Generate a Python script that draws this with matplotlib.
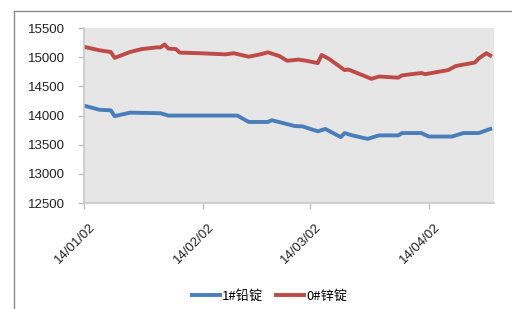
import datetime as dt
import matplotlib
matplotlib.use("Agg")
from matplotlib import pyplot as plt
from matplotlib import dates as mdates
from matplotlib import transforms as mtrans
from matplotlib.lines import Line2D

plt.rcParams['font.family'] = ['Liberation Sans', 'Noto Sans CJK SC', 'DejaVu Sans']

# 1# lead ingot (blue)
lead_dates = ["2014-01-02", "2014-01-06", "2014-01-09", "2014-01-10", "2014-01-14",
              "2014-01-22", "2014-01-24", "2014-02-11", "2014-02-14", "2014-02-19",
              "2014-02-20", "2014-02-26", "2014-02-28", "2014-03-04", "2014-03-06",
              "2014-03-10", "2014-03-11", "2014-03-13", "2014-03-17", "2014-03-20",
              "2014-03-25", "2014-03-26", "2014-03-31", "2014-04-02", "2014-04-08",
              "2014-04-11", "2014-04-15", "2014-04-18"]
lead_vals = [14170, 14100, 14090, 13990, 14050,
             14040, 14000, 14000, 13890, 13890,
             13920, 13820, 13815, 13730, 13770,
             13630, 13700, 13660, 13600, 13660,
             13660, 13700, 13700, 13640, 13640,
             13700, 13700, 13770]

# 0# zinc ingot (red)
zinc_dates = ["2014-01-02", "2014-01-06", "2014-01-09", "2014-01-10", "2014-01-14",
              "2014-01-17", "2014-01-21", "2014-01-22", "2014-01-23", "2014-01-24",
              "2014-01-26", "2014-01-27", "2014-02-01", "2014-02-08", "2014-02-10",
              "2014-02-12", "2014-02-14", "2014-02-17", "2014-02-19", "2014-02-22",
              "2014-02-24", "2014-02-27", "2014-03-01", "2014-03-04", "2014-03-05",
              "2014-03-07", "2014-03-11", "2014-03-12", "2014-03-18", "2014-03-20",
              "2014-03-25", "2014-03-26", "2014-03-31", "2014-04-01", "2014-04-07",
              "2014-04-09", "2014-04-14", "2014-04-15", "2014-04-17", "2014-04-18"]
zinc_vals = [15180, 15120, 15090, 14990, 15090,
             15140, 15170, 15170, 15220, 15150,
             15140, 15080, 15070, 15050, 15070,
             15040, 15010, 15050, 15085, 15020,
             14940, 14960, 14940, 14900, 15040,
             14970, 14780, 14790, 14630, 14670,
             14650, 14690, 14730, 14710, 14780,
             14850, 14910, 14980, 15070, 15030]

tick_dates = ["2014-01-02", "2014-02-02", "2014-03-02", "2014-04-02"]
y_ticks = [12500, 13000, 13500, 14000, 14500, 15000, 15500]


def to_dt(lst):
    return [dt.datetime.strptime(s, "%Y-%m-%d") for s in lst]


fig = plt.figure(figsize=(5.12, 3.09), dpi=100)
ax = fig.add_axes([0.164, 0.343, 0.801, 0.566])
ax.set_facecolor('#e6e6e6')

ax.plot(to_dt(lead_dates), lead_vals, color='#4a7ebb', lw=2.8, label='1#铅锭')
ax.plot(to_dt(zinc_dates), zinc_vals, color='#be4b48', lw=2.8, label='0#锌锭')

ax.set_ylim(12500, 15500)
ax.set_yticks(y_ticks)
ax.set_xlim(dt.datetime(2014, 1, 2), dt.datetime(2014, 4, 19))
ax.set_xticks(to_dt(tick_dates))
ax.xaxis.set_major_formatter(mdates.DateFormatter('%y/%m/%d'))

for s in ['top', 'right']:
    ax.spines[s].set_visible(False)
for s in ['left', 'bottom']:
    ax.spines[s].set_color('#c8c8c8')
    ax.spines[s].set_linewidth(1.2)
ax.tick_params(axis='both', colors='#c0c0c0', labelcolor='#222222',
               labelsize=9.5, length=4, width=1)
ax.tick_params(axis='y', pad=10)
ax.tick_params(axis='x', pad=9)

# shift rotated date labels a little to the right, like the original
shift = mtrans.ScaledTranslation(5 / 100, 0, fig.dpi_scale_trans)
for lbl in ax.get_xticklabels():
    lbl.set_rotation(45)
    lbl.set_ha('right')
    lbl.set_rotation_mode('anchor')
    lbl.set_transform(lbl.get_transform() + shift)

# outer frame (left and top edges)
fig.add_artist(Line2D([14 / 512, 14 / 512], [0, 1 - 11 / 309],
                      transform=fig.transFigure, color='#8a8a8a', lw=1))
fig.add_artist(Line2D([14 / 512, 1], [1 - 11 / 309, 1 - 11 / 309],
                      transform=fig.transFigure, color='#8a8a8a', lw=1))

fig.legend(loc='center', bbox_to_anchor=(0.527, 0.042), ncol=2, frameon=False,
           handlelength=2.1, columnspacing=1.0, handletextpad=0.15,
           prop={'family': ['Noto Sans CJK SC', 'DejaVu Sans'], 'size': 9.5})

fig.savefig("out.png", dpi=100)
